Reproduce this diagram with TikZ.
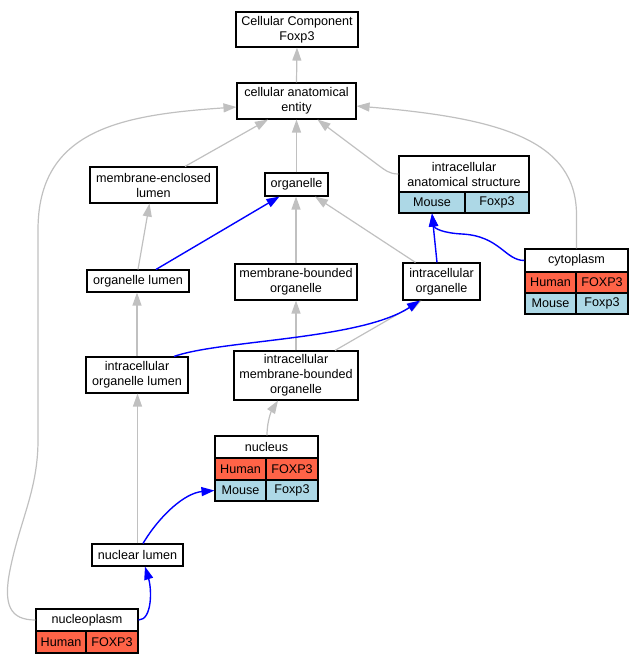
\documentclass[tikz,border=0pt]{standalone}
\usepackage{fontspec}
\setmainfont{Liberation Sans}
\usetikzlibrary{arrows.meta,calc}
\definecolor{human}{HTML}{FF6347}
\definecolor{mouse}{HTML}{ADD8E6}
\definecolor{edgegray}{HTML}{C0C0C0}
\begin{document}
\begin{tikzpicture}[x=1pt,y=-1pt,
  box/.style={draw=black, line width=1.1pt, fill=white, inner sep=0pt, align=center,
    font=\fontsize{12.6}{15}\selectfont},
  ge/.style={draw=edgegray, line width=1.2pt, -{Triangle[length=13pt,width=9pt]}},
  be/.style={draw=blue, line width=1.4pt, -{Triangle[length=13pt,width=9pt]}}
]
\useasboundingbox (0,0) rectangle (642,664);

% plain nodes
\node[box, minimum width=122pt, minimum height=35pt] (cc) at (297,29.5) {Cellular Component\\Foxp3};
\node[box, minimum width=119pt, minimum height=36pt] (cae) at (296.5,101) {cellular anatomical\\entity};
\node[box, minimum width=127pt, minimum height=36pt] (mel) at (153.5,185) {membrane-enclosed\\lumen};
\node[box, minimum width=63pt, minimum height=23pt] (org) at (296.5,184.5) {organelle};
\node[box, minimum width=102pt, minimum height=22pt] (ol) at (138,281) {organelle lumen};
\node[box, minimum width=122pt, minimum height=36pt] (mbo) at (296,282) {membrane-bounded\\organelle};
\node[box, minimum width=77pt, minimum height=37pt] (io) at (441.5,281.5) {intracellular\\organelle};
\node[box, minimum width=102pt, minimum height=36pt] (iol) at (137,375) {intracellular\\organelle lumen};
\node[box, minimum width=124pt, minimum height=49pt] (imbo) at (296,375.5) {intracellular\\membrane-bounded\\organelle};
\node[box, minimum width=91pt, minimum height=22pt] (nl) at (137.5,555) {nuclear lumen};

% record: intracellular anatomical structure
\node[box, minimum width=130pt, minimum height=36pt] (iasH) at (464,174) {intracellular\\anatomical structure};
\node[box, fill=mouse, minimum width=66pt, minimum height=21pt] (iasM) at (432,202.5) {Mouse};
\node[box, fill=mouse, minimum width=64pt, minimum height=21pt] (iasF) at (497,202.5) {Foxp3};

% record: cytoplasm
\node[box, minimum width=103pt, minimum height=23pt] (cytoH) at (576.5,260.5) {cytoplasm};
\node[box, fill=human, minimum width=51pt, minimum height=21pt] (cytoHu) at (550.5,282.5) {Human};
\node[box, fill=human, minimum width=52pt, minimum height=21pt] (cytoHF) at (602,282.5) {FOXP3};
\node[box, fill=mouse, minimum width=51pt, minimum height=21pt] (cytoM) at (550.5,303.5) {Mouse};
\node[box, fill=mouse, minimum width=52pt, minimum height=21pt] (cytoMF) at (602,303.5) {Foxp3};

% record: nucleus
\node[box, minimum width=103pt, minimum height=22pt] (nucH) at (266.5,447) {nucleus};
\node[box, fill=human, minimum width=51pt, minimum height=22pt] (nucHu) at (240.5,469) {Human};
\node[box, fill=human, minimum width=52pt, minimum height=22pt] (nucHF) at (292,469) {FOXP3};
\node[box, fill=mouse, minimum width=51pt, minimum height=21pt] (nucM) at (240.5,490.5) {Mouse};
\node[box, fill=mouse, minimum width=52pt, minimum height=21pt] (nucMF) at (292,490.5) {Foxp3};

% record: nucleoplasm
\node[box, minimum width=102pt, minimum height=22pt] (npH) at (87,620) {nucleoplasm};
\node[box, fill=human, minimum width=50pt, minimum height=22pt] (npHu) at (61,642) {Human};
\node[box, fill=human, minimum width=52pt, minimum height=22pt] (npHF) at (112,642) {FOXP3};

% gray edges
\draw[ge] (cae.north) -- (cc.south);
\draw[ge] ([xshift=31.5pt]mel.north) -- ([xshift=-28.5pt]cae.south);
\draw[ge] (org.north) -- (org.north |- cae.south);
\draw[ge] (iasH.west) .. controls (389,174) and (385,170) .. (378,165) -- ([xshift=21pt]cae.south);
\draw[ge] (cytoH.north) -- (576.5,215) .. controls (576.5,140) and (500,118) .. ([yshift=-5pt]cae.east);
\draw[ge] (npH.west) .. controls (10,620) and (3,605) .. (10,570) .. controls (20,520) and (38,490) .. (38,440) -- (38,230) .. controls (38,130) and (120,115) .. ([yshift=-6pt]cae.west);
\draw[ge] (ol.north) -- ([xshift=-4pt]mel.south);
\draw[ge] (mbo.north) -- (mbo.north |- org.south);
\draw[ge] ([xshift=-26pt]io.north) -- ([xshift=18.5pt]org.south);
\draw[ge] (iol.north) -- (iol.north |- ol.south);
\draw[ge] ([xshift=39pt]imbo.north) -- ([xshift=-20pt]io.south);
\draw[ge] (imbo.north) -- (imbo.north |- mbo.south);
\draw[ge] ([xshift=0.5pt]nucH.north) .. controls (267,420) and (272,410) .. ([xshift=-18pt]imbo.south);
\draw[ge] (nl.north) -- (nl.north |- iol.south);

% blue edges
\draw[be] ([xshift=18pt]ol.north) -- ([xshift=-17pt]org.south);
\draw[be] ([xshift=-4.5pt]io.north) -- (iasM.south);
\draw[be] (cytoH.west) .. controls (505,260.5) and (500,236) .. (462,234) .. controls (442,233) and (434,228) .. (iasM.south);
\draw[be] ([xshift=37pt]iol.north) .. controls (220,340) and (360,340) .. ([xshift=-21.5pt]io.south);
\draw[be] ([xshift=5.5pt]nl.north) .. controls (160,515) and (185,493) .. (nucM.west);
\draw[be] (npH.east) .. controls (152,620) and (152,590) .. ([xshift=7.5pt]nl.south);
\end{tikzpicture}
\end{document}
